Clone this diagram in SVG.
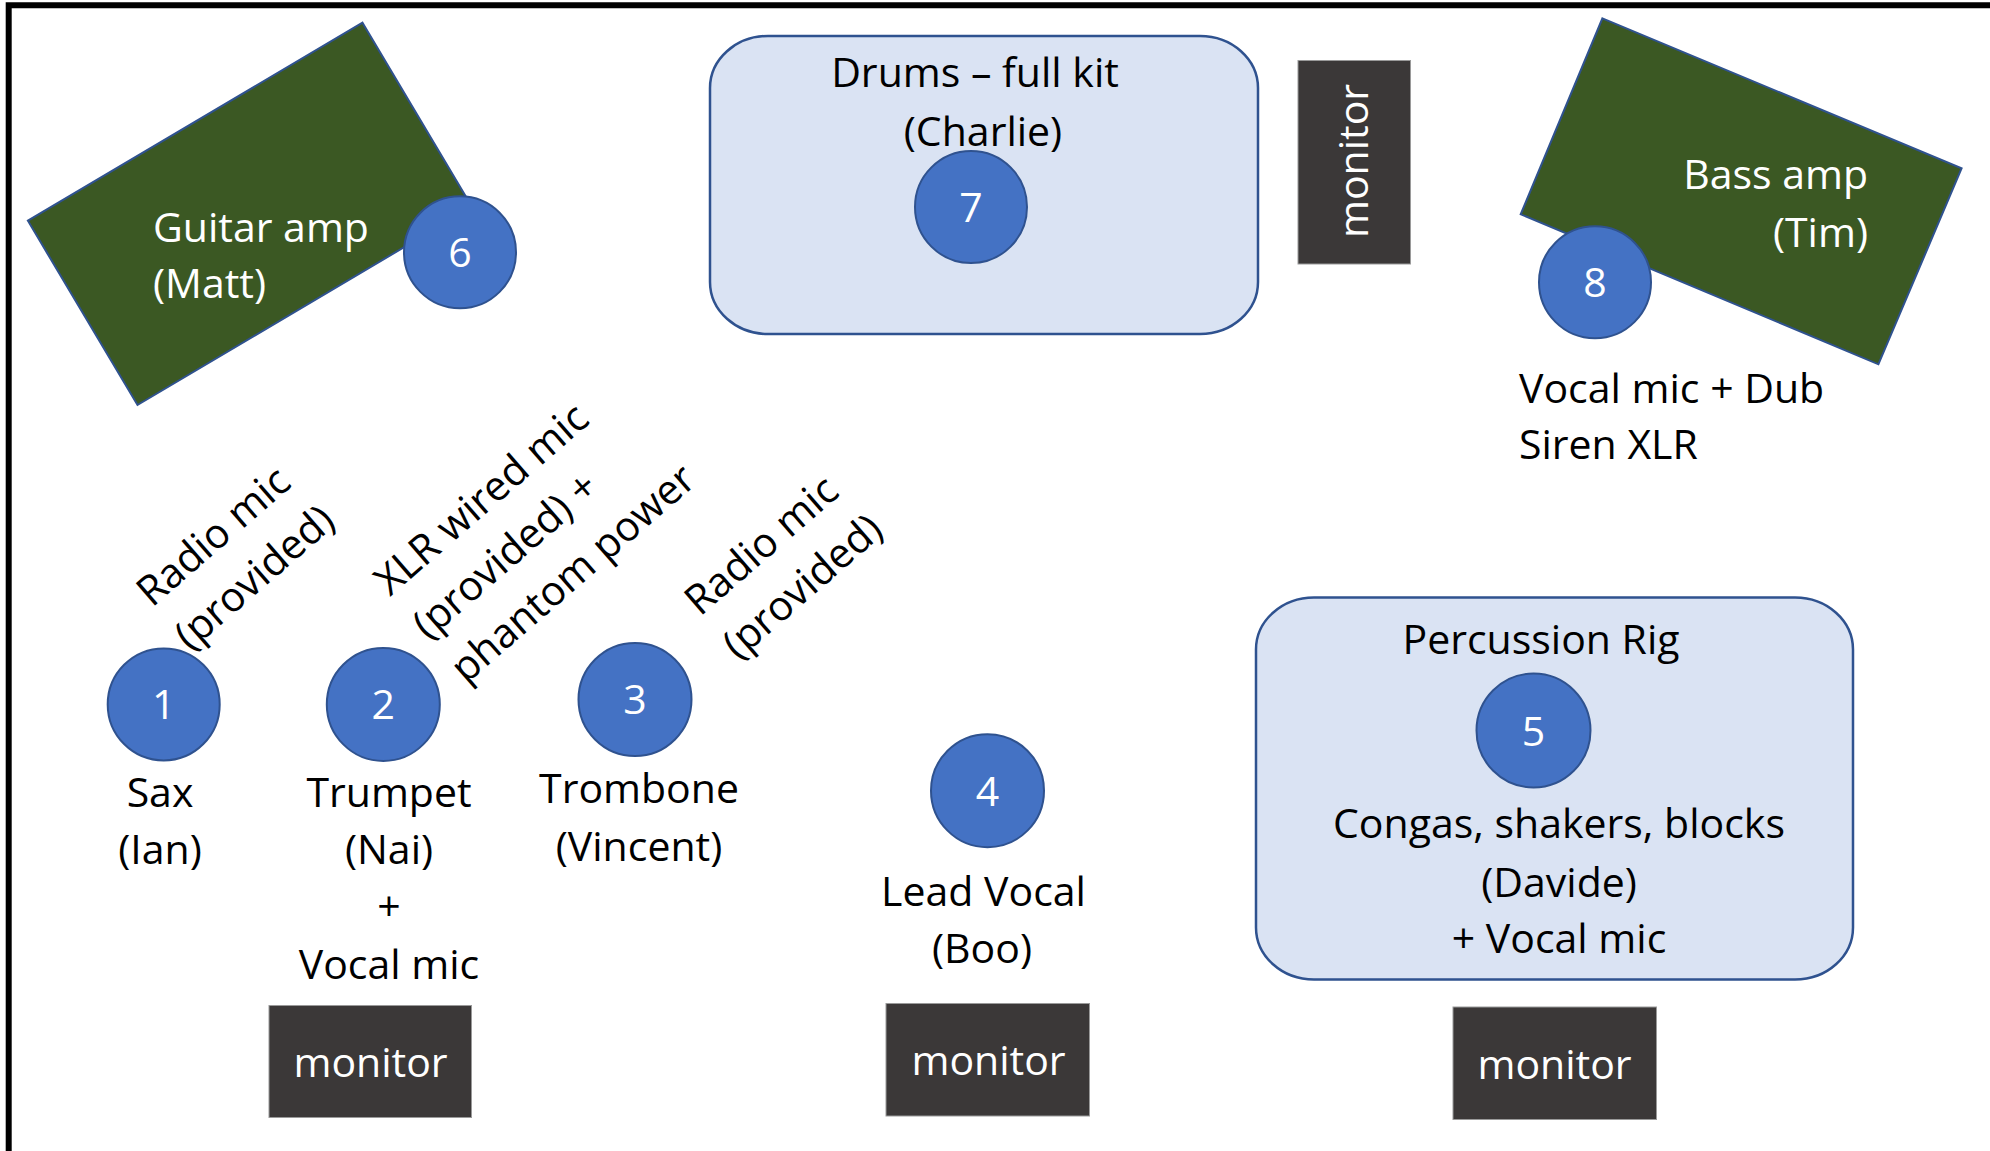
<svg xmlns="http://www.w3.org/2000/svg" width="1990" height="1151" viewBox="0 0 1990 1151">
  <style>
    .t { font-family: "Open Sans", "Noto Sans", "Liberation Sans", sans-serif; font-size: 41px; fill: #000; }
    .w { fill: #fff; }
    .c { text-anchor: middle; }
    .r { text-anchor: end; }
    .mic { fill: #4472c4; stroke: #2f528f; stroke-width: 2; }
    .amp { fill: #3b5823; stroke: #2f528f; stroke-width: 2; }
    .rig { fill: #dae3f3; stroke: #2f528f; stroke-width: 2.5; }
    .mon { fill: #3b3838; stroke: #9a9a9a; stroke-width: 1; }
  </style>
  <rect x="0" y="0" width="1990" height="1151" fill="#fff"/>
  <path d="M8.7 1151 V5.3 H1990" fill="none" stroke="#000" stroke-width="6"/>

  <g id="guitar-amp">
    <polygon class="amp" points="362.5,22.7 472,207 137.5,405 27.9,220.7"/>
    <text class="t w" x="153" y="242">Guitar amp</text>
    <text class="t w" x="153" y="298">(Matt)</text>
  </g>
  <g id="mic-6">
    <circle class="mic" cx="460" cy="252.3" r="56"/>
    <text class="t w c" x="460" y="267">6</text>
  </g>

  <g id="drums">
    <rect class="rig" x="710" y="36" width="548" height="298" rx="58" ry="52"/>
    <text class="t c" x="975" y="87">Drums – full kit</text>
    <text class="t c" x="983" y="146">(Charlie)</text>
  </g>
  <g id="mic-7">
    <circle class="mic" cx="971" cy="207" r="56"/>
    <text class="t w c" x="971" y="222">7</text>
  </g>

  <g id="monitor-drums">
    <rect class="mon" x="1298" y="60.5" width="112.5" height="203.5"/>
    <text class="t w c" transform="translate(1368 161) rotate(-90)" x="0" y="0">monitor</text>
  </g>

  <g id="bass-amp">
    <polygon class="amp" points="1602.4,18.3 1961.6,168.3 1878.4,364.3 1520.7,214.3"/>
    <text class="t w r" x="1868" y="189">Bass amp</text>
    <text class="t w r" x="1868" y="246.5">(Tim)</text>
  </g>
  <g id="mic-8">
    <circle class="mic" cx="1595" cy="282.3" r="56"/>
    <text class="t w c" x="1595" y="297">8</text>
    <text class="t" x="1519" y="403">Vocal mic + Dub</text>
    <text class="t" x="1519" y="459">Siren XLR</text>
  </g>

  <g id="mic-1">
    <text class="t" transform="translate(152 608) rotate(-41)"><tspan x="0" y="0">Radio mic</tspan><tspan x="0" y="58">(provided)</tspan></text>
    <circle class="mic" cx="163.7" cy="704.4" r="56"/>
    <text class="t w c" x="163.7" y="719">1</text>
    <text class="t c" x="160" y="807">Sax</text>
    <text class="t c" x="160" y="864">(Ian)</text>
  </g>

  <g id="mic-2">
    <text class="t" transform="translate(390 597) rotate(-41)"><tspan x="0" y="0">XLR wired mic</tspan><tspan x="0" y="58">(provided) +</tspan><tspan x="0" y="116">phantom power</tspan></text>
    <circle class="mic" cx="383.3" cy="704.4" r="56.5"/>
    <text class="t w c" x="383.3" y="719">2</text>
    <text class="t c" x="389" y="807">Trumpet</text>
    <text class="t c" x="389" y="864">(Nai)</text>
    <text class="t c" x="389" y="921">+</text>
    <text class="t c" x="389" y="979">Vocal mic</text>
  </g>

  <g id="mic-3">
    <text class="t" transform="translate(700 617) rotate(-41)"><tspan x="0" y="0">Radio mic</tspan><tspan x="0" y="58">(provided)</tspan></text>
    <circle class="mic" cx="635" cy="699.5" r="56.5"/>
    <text class="t w c" x="635" y="714">3</text>
    <text class="t c" x="639" y="803">Trombone</text>
    <text class="t c" x="639" y="861">(Vincent)</text>
  </g>

  <g id="mic-4">
    <circle class="mic" cx="987.5" cy="790.7" r="56.5"/>
    <text class="t w c" x="987.5" y="805.5">4</text>
    <text class="t c" x="983.5" y="906">Lead Vocal</text>
    <text class="t c" x="982" y="963">(Boo)</text>
  </g>

  <g id="percussion">
    <rect class="rig" x="1256" y="597.5" width="597" height="382" rx="58" ry="52"/>
    <text class="t c" x="1541" y="654">Percussion Rig</text>
    <text class="t c" x="1559" y="838">Congas, shakers, blocks</text>
    <text class="t c" x="1559" y="896.5">(Davide)</text>
    <text class="t c" x="1559" y="953">+ Vocal mic</text>
  </g>
  <g id="mic-5">
    <circle class="mic" cx="1533.5" cy="730.5" r="57"/>
    <text class="t w c" x="1533.5" y="745.5">5</text>
  </g>

  <g id="monitor-1">
    <rect class="mon" x="269" y="1005.5" width="202.5" height="112"/>
    <text class="t w c" x="370.5" y="1076.5">monitor</text>
  </g>
  <g id="monitor-2">
    <rect class="mon" x="886" y="1003.5" width="203.5" height="112.5"/>
    <text class="t w c" x="988.5" y="1075">monitor</text>
  </g>
  <g id="monitor-3">
    <rect class="mon" x="1453" y="1007" width="203.5" height="112.5"/>
    <text class="t w c" x="1554.5" y="1079">monitor</text>
  </g>

  <g id="connectors"/>
</svg>
